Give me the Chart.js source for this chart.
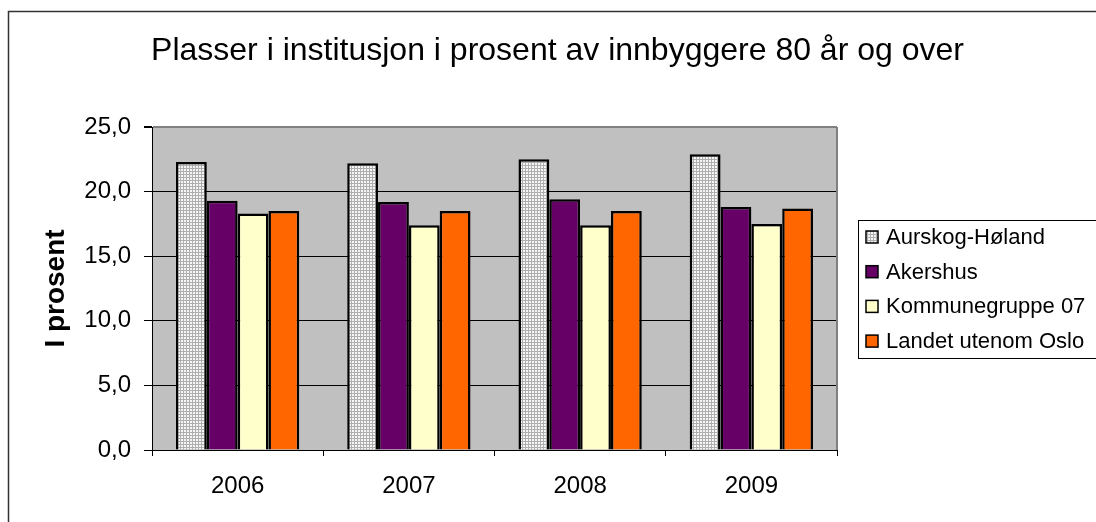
<!DOCTYPE html>
<html>
<head>
<meta charset="utf-8">
<script src="https://cdn.jsdelivr.net/npm/chart.js@4"></script>
<style>
  html, body { margin: 0; padding: 0; background: #fff; }
  #wrap { width: 1096px; height: 522px; }
</style>
</head>
<body>
<div id="wrap"><canvas id="c" width="1096" height="522"></canvas></div>
<script>
const YEARS = ["2006", "2007", "2008", "2009"];
const SERIES_NAMES = ["Aurskog-Høland", "Akershus", "Kommunegruppe 07", "Landet utenom Oslo"];
const AURSKOG = [22.3, 22.2, 22.5, 22.9];
const AKERSHUS = [19.3, 19.2, 19.4, 18.8];
const KOMMUNEGRUPPE = [18.3, 17.4, 17.4, 17.5];
const LANDET = [18.5, 18.5, 18.5, 18.7];
const Y_TICKS = [0, 5, 10, 15, 20, 25];

const FONT = "'Liberation Sans', Arial, sans-serif";

// dotted grey fill used for the first series
function dotPattern() {
  const tile = document.createElement("canvas");
  tile.width = 3;
  tile.height = 3;
  const t = tile.getContext("2d");
  t.fillStyle = "#aeaeae";
  t.fillRect(0, 0, 3, 3);
  t.fillStyle = "#f6f6f6";
  t.fillRect(1, 1, 2, 2);
  return document.getElementById("c").getContext("2d").createPattern(tile, "repeat");
}

const frameAndPlot = {
  id: "frameAndPlot",
  beforeDraw(chart) {
    const { ctx, chartArea: a } = chart;
    ctx.save();
    ctx.fillStyle = "#ffffff";
    ctx.fillRect(0, 0, chart.width, chart.height);
    ctx.strokeStyle = "#333";
    ctx.lineWidth = 1.5;
    ctx.strokeRect(8.5, 11.5, chart.width + 20, chart.height + 20);
    ctx.fillStyle = "#c0c0c0";
    ctx.fillRect(a.left, a.top, a.right - a.left, a.bottom - a.top);
    ctx.restore();
  },
  afterDraw(chart) {
    const { ctx, chartArea: a } = chart;
    ctx.save();
    ctx.strokeStyle = "#808080";
    ctx.lineWidth = 2;
    ctx.beginPath();
    ctx.moveTo(a.right, a.top);
    ctx.lineTo(a.right, a.bottom);
    ctx.stroke();

    // legend box
    ctx.strokeStyle = "#000";
    ctx.lineWidth = 1;
    ctx.strokeRect(858.5, 220.5, 300, 138);
    ctx.font = "22px " + FONT;
    ctx.textBaseline = "middle";
    ctx.textAlign = "left";
    chart.data.datasets.forEach((ds, i) => {
      const y = 237 + i * 34.7;
      ctx.fillStyle = ds.backgroundColor;
      ctx.fillRect(866, y - 6, 12, 12);
      ctx.strokeStyle = "#000";
      ctx.lineWidth = 1.5;
      ctx.strokeRect(866, y - 6, 12, 12);
      ctx.fillStyle = "#000";
      ctx.fillText(ds.label, 886, y + 1);
    });
    ctx.restore();
  },
};

const fmt = (v) => v.toFixed(1).replace(".", ",");

new Chart(document.getElementById("c"), {
  type: "bar",
  data: {
    labels: YEARS,
    datasets: [
      { label: SERIES_NAMES[0], data: AURSKOG, backgroundColor: dotPattern() },
      { label: SERIES_NAMES[1], data: AKERSHUS, backgroundColor: "#660066" },
      { label: SERIES_NAMES[2], data: KOMMUNEGRUPPE, backgroundColor: "#ffffcc" },
      { label: SERIES_NAMES[3], data: LANDET, backgroundColor: "#ff6600" },
    ].map((d) => ({
      ...d,
      borderColor: "#000",
      borderWidth: 2.5,
      barPercentage: 1,
      categoryPercentage: 0.72,
    })),
  },
  options: {
    responsive: false,
    animation: false,
    layout: { padding: { left: 19, right: 0, top: 0, bottom: 0 } },
    plugins: {
      legend: { display: false },
      tooltip: { enabled: false },
      title: {
        display: true,
        text: "Plasser i institusjon i prosent av innbyggere 80 år og over",
        color: "#000",
        font: { family: FONT, size: 32, weight: "normal", lineHeight: 1.2 },
        padding: { top: 32, bottom: 56.6 },
      },
    },
    scales: {
      x: {
        ticks: { color: "#000", font: { family: FONT, size: 24 }, padding: 16 },
        grid: {
          offset: true,
          drawOnChartArea: false,
          drawTicks: true,
          tickLength: 6,
          tickColor: "#000",
        },
        border: { color: "#000", width: 1 },
        afterFit(s) { s.height = 72; },
      },
      y: {
        min: 0,
        max: 25,
        afterBuildTicks(s) { s.ticks = Y_TICKS.map((v) => ({ value: v })); },
        ticks: {
          color: "#000",
          font: { family: FONT, size: 24 },
          padding: 13,
          callback: (v) => fmt(v),
        },
        grid: {
          color: (c) => (c.tick && c.tick.value === 25 ? "#808080" : "#000"),
          lineWidth: (c) => (c.tick && c.tick.value === 25 ? 2 : 1),
          tickLength: 8,
          tickColor: "#000",
        },
        border: { color: "#000", width: 1 },
        title: {
          display: true,
          text: "I prosent",
          color: "#000",
          font: { family: FONT, size: 28, weight: "bold", lineHeight: 1.2 },
          padding: { top: 20, bottom: 0 },
        },
        afterFit(s) { s.width = 133; },
      },
      legendSpace: {
        type: "linear",
        position: "right",
        display: true,
        ticks: { display: false },
        grid: { display: false, drawTicks: false },
        border: { display: false },
        afterFit(s) { s.width = 1096 - 837; },
      },
    },
  },
  plugins: [frameAndPlot],
});
</script>
</body>
</html>
